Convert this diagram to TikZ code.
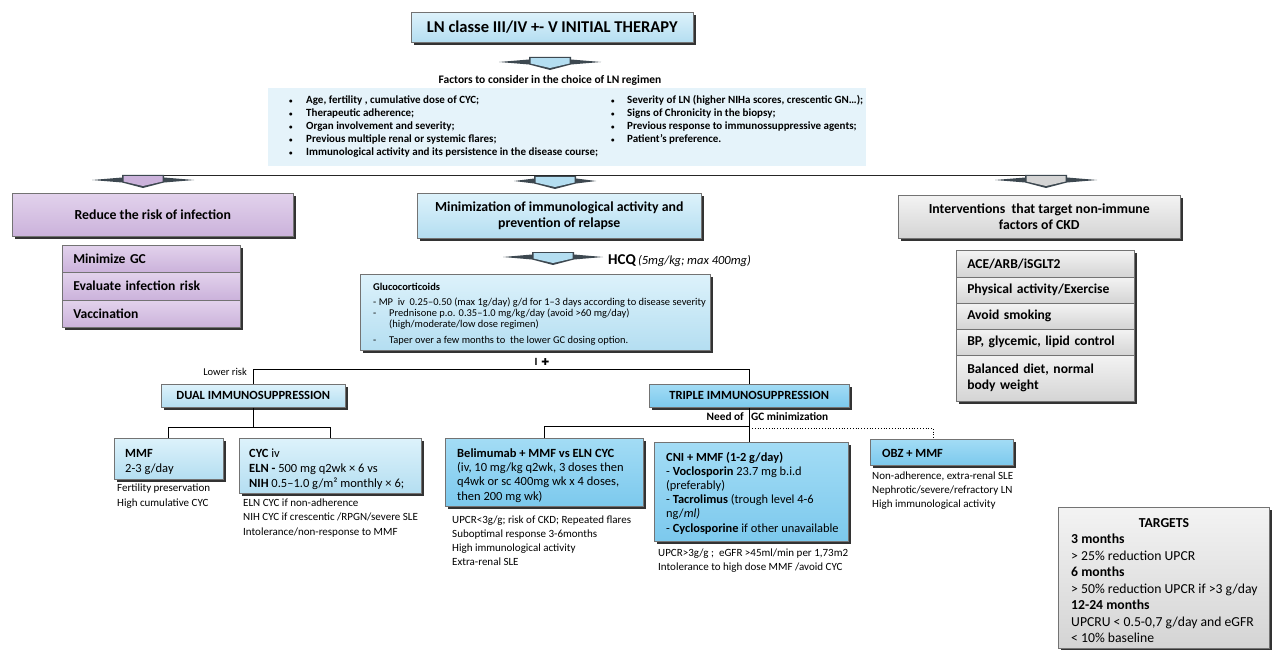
\documentclass[tikz,border=0pt]{standalone}
\usepackage{fontspec}
\setmainfont{Carlito}
\newfontfamily\dejavu{DejaVu Sans}
\usetikzlibrary{shadows,calc}

\definecolor{lbluetop}{HTML}{DDF2FB}
\definecolor{lbluebot}{HTML}{B4DEF1}
\definecolor{sbluetop}{HTML}{A3DCF5}
\definecolor{sbluebot}{HTML}{7CC9ED}
\definecolor{factbg}{HTML}{E5F3FA}
\definecolor{lilactop}{HTML}{E2D2EC}
\definecolor{lilacbot}{HTML}{CBB2DB}
\definecolor{gtop}{HTML}{F3F3F3}
\definecolor{gbot}{HTML}{D4D4D4}
\definecolor{arrowdark}{HTML}{3D4850}

\newcommand\flatarrow[4]{%
 \fill[arrowdark] (#1-#3,#2+5) -- (#1-21,#2+2.5) -- (#1-21,#2) -- (#1+21,#2) -- (#1+21,#2+2.5) -- (#1+#3,#2+5) -- (#1+21,#2+7.5) -- (#1,#2+13) -- (#1-21,#2+7.5) -- cycle;
 \fill[#4] (#1-19.5,#2+1.2) -- (#1+19.5,#2+1.2) -- (#1+19.5,#2+6.5) -- (#1,#2+11) -- (#1-19.5,#2+6.5) -- cycle;
}
\newcommand\txtlines[1]{\begin{tabular}[t]{@{}l@{}}#1\end{tabular}}
\newcommand\smallbul{\raisebox{0.6pt}{\fontsize{7}{7}\selectfont •}}

\tikzset{
 box/.style={draw=black!55, line width=0.5pt, general shadow={fill=black!80, shadow xshift=2.5pt, shadow yshift=-2.5pt}, inner sep=0pt, anchor=north west},
 bluebox/.style={box, top color=lbluetop, bottom color=lbluebot},
 sbluebox/.style={box, top color=sbluetop, bottom color=sbluebot},
 lilacbox/.style={box, top color=lilactop, bottom color=lilacbot},
 graybox/.style={box, top color=gtop, bottom color=gbot},
 itembox/.style={text width=156pt, inner xsep=11pt, align=left, font=\bfseries\fontsize{13.6}{16}\selectfont},
 boxtext/.style={anchor=base west, inner sep=0pt, font=\fontsize{12.5}{15.2}\selectfont},
 note/.style={anchor=base west, inner sep=0pt, font=\fontsize{11}{14}\selectfont},
 link/.style={draw=black, line width=0.8pt},
}

\begin{document}
\begin{tikzpicture}[x=1pt,y=-1pt]
\useasboundingbox (0,0) rectangle (1272,650);
\fill[white] (0,0) rectangle (1272,650);

% title
\node[bluebox, minimum width=282pt, minimum height=30pt, font=\bfseries\fontsize{16.5}{18}\selectfont] (title) at (411,12) {LN classe III/IV +- V INITIAL THERAPY};
\flatarrow{550}{57}{51}{lbluebot}
\node[inner sep=0pt, font=\bfseries\fontsize{11.5}{13}\selectfont] (factorshead) at (550,80) {Factors to consider in the choice of LN regimen};

% factors
\node[fill=factbg, anchor=north west, minimum width=598pt, minimum height=78pt, inner sep=0pt] (factors) at (268,88) {};
\node[anchor=base west, inner sep=0pt, font=\bfseries\fontsize{11}{13}\selectfont] (factorsL) at (289,104) {\begin{tabular}[t]{@{}p{17pt}@{}l@{}}
\smallbul&Age, fertility , cumulative dose of CYC;\\
\smallbul&Therapeutic adherence;\\
\smallbul&Organ involvement and severity;\\
\smallbul&Previous multiple renal or systemic flares;\\
\smallbul&Immunological activity and its persistence in the disease course;
\end{tabular}};
\node[anchor=base west, inner sep=0pt, font=\bfseries\fontsize{11}{13}\selectfont] (factorsR) at (611,104) {\begin{tabular}[t]{@{}p{16pt}@{}l@{}}
\smallbul&Severity of LN (higher NIHa scores, crescentic GN…);\\
\smallbul&Signs of Chronicity in the biopsy;\\
\smallbul&Previous response to immunossuppressive agents;\\
\smallbul&Patient’s preference.
\end{tabular}};

% distribution line and arrows
\coordinate (hl) at (143,175);
\coordinate (hr) at (1046,175);
\draw[line width=0.9pt, black!85] (hl) -- (hr);
\flatarrow{143}{175}{51}{lilacbot}
\flatarrow{555}{176}{41}{lbluebot}
\flatarrow{1046}{175}{51}{gbot}

% left branch
\node[lilacbox, minimum width=281pt, minimum height=43pt, font=\bfseries\fontsize{13.8}{16}\selectfont] (reduce) at (12,193) {Reduce the risk of infection};
\node[lilacbox, itembox, minimum height=27pt] (mingc) at (62,245) {\mbox{Minimize GC}};
\node[lilacbox, itembox, minimum height=28pt] (evalinf) at (62,272) {\mbox{Evaluate infection risk}};
\node[lilacbox, itembox, minimum height=27pt] (vacc) at (62,300) {\mbox{Vaccination}};

% middle branch
\node[bluebox, minimum width=284pt, minimum height=45pt, align=center, font=\bfseries\fontsize{13.8}{16.5}\selectfont] (minim) at (417,193) {Minimization of immunological activity and\\prevention of relapse};
\flatarrow{553}{252}{50}{lbluebot}
\node[anchor=base west, inner sep=0pt] (hcq) at (608,264) {{\bfseries\fontsize{15}{17}\selectfont HCQ} {\itshape\fontsize{12.5}{14}\selectfont (5mg/kg; max 400mg)}};

\node[bluebox, minimum width=350pt, minimum height=76pt] (gc) at (360,274) {};
\node[anchor=base west, inner sep=0pt, font=\fontsize{10.45}{11}\selectfont] (gctext) at (373,290) {\txtlines{\textbf{Glucocorticoids}\\[4pt]- MP\ \ iv\ \ 0.25–0.50 (max 1g/day) g/d for 1–3 days according to disease severity\\\makebox[16pt][l]{-}Prednisone p.o. 0.35–1.0 mg/kg/day (avoid >60 mg/day)\\\hspace*{16pt}(high/moderate/low dose regimen)\\[5pt]\makebox[16pt][l]{-}Taper over a few months to\ \ the lower GC dosing option.}};
\node[inner sep=0pt, font=\bfseries\fontsize{11}{12}\selectfont] (iplus) at (542,362) {I\hspace{4pt}{\dejavu\fontsize{9.5}{10}\selectfont ✚}};

% dual / triple
\node[bluebox, minimum width=184pt, minimum height=23pt, font=\bfseries\fontsize{12.5}{14}\selectfont] (dual) at (161,384) {DUAL IMMUNOSUPPRESSION};
\node[sbluebox, minimum width=200pt, minimum height=23pt, font=\bfseries\fontsize{12.5}{14}\selectfont] (triple) at (649,384) {TRIPLE IMMUNOSUPPRESSION};
\node[anchor=base east, inner sep=0pt, font=\fontsize{10.5}{12}\selectfont] (lowrisk) at (247,375.5) {Lower risk};
\draw[link] (dual.north) -- ++(0,-15) -| (triple.north);

% dual subtree
\node[bluebox, minimum width=109pt, minimum height=41pt] (mmf) at (114,438) {};
\node[boxtext, font=\fontsize{12.5}{15.3}\selectfont] (mmftext) at (125,457) {\txtlines{\textbf{MMF}\\2-3 g/day}};
\node[bluebox, minimum width=182pt, minimum height=55pt] (cyc) at (239,438) {};
\node[boxtext, font=\fontsize{12.5}{15.1}\selectfont] (cyctext) at (249,457) {\txtlines{\textbf{CYC} iv\\\textbf{ELN -} 500 mg q2wk × 6 vs\\\textbf{NIH} 0.5–1.0 g/m² monthly × 6;}};
\coordinate (dj) at ($(dual.south)+(0,20)$);
\draw[link] (dual.south) -- (dj);
\draw[link] (mmf.north) |- (dj) -| (cyc.north);
\node[note, font=\fontsize{11}{15}\selectfont] (mmfnote) at (117,491) {\txtlines{Fertility preservation\\High cumulative CYC}};
\node[note, font=\fontsize{11}{14.5}\selectfont] (cycnote) at (243,506.3) {\txtlines{ELN CYC if non-adherence\\NIH CYC if crescentic /RPGN/severe SLE\\Intolerance/non-response to MMF}};

% triple subtree
\node[sbluebox, minimum width=198pt, minimum height=68pt] (bel) at (445,438) {};
\node[boxtext, font=\fontsize{12.5}{14.4}\selectfont] (beltext) at (457,457) {\txtlines{\textbf{Belimumab + MMF vs ELN CYC}\\(iv, 10 mg/kg q2wk, 3 doses then\\q4wk or sc 400mg wk x 4 doses,\\then 200 mg wk)}};
\node[sbluebox, minimum width=194pt, minimum height=99pt] (cni) at (654,442) {};
\node[boxtext, font=\fontsize{12.4}{14.2}\selectfont] (cnitext) at (666,461) {\txtlines{\textbf{CNI + MMF (1-2 g/day)}\\- \textbf{Voclosporin} 23.7 mg b.i.d\\(preferably)\\- \textbf{Tacrolimus} (trough level 4-6\\ng/\textit{ml)}\\- \textbf{Cyclosporine} if other\ unavailable}};
\node[sbluebox, minimum width=143pt, minimum height=26pt] (obz) at (870,439) {};
\node[anchor=base west, inner sep=0pt, font=\bfseries\fontsize{12.5}{14}\selectfont] (obztext) at (882,457) {OBZ + MMF};

\node[anchor=base east, inner sep=0pt, font=\bfseries\fontsize{11.3}{13}\selectfont] (needof) at (744,420) {Need of};
\node[anchor=base west, inner sep=0pt, font=\bfseries\fontsize{11.3}{13}\selectfont] (gcmin) at (751,420) {GC minimization};
\coordinate (tj) at ($(triple.south)+(0,19)$);
\draw[link] (triple.south) -- (triple.south |- cni.north);
\draw[link] (bel.north) |- (tj);
\draw[dotted, line width=0.8pt] ($(tj)+(0,2)$) -| ($(obz.north)+(-8,0)$);

\node[note] (belnote) at (452,523.3) {\txtlines{UPCR<3g/g; risk of CKD; Repeated flares\\Suboptimal response 3-6months\\High immunological activity\\Extra-renal SLE}};
\node[note] (cninote) at (658,556.3) {\txtlines{UPCR>3g/g ;\ \ eGFR >45ml/min per 1,73m2\\Intolerance to high dose MMF /avoid CYC}};
\node[note] (obznote) at (872,479.3) {\txtlines{Non-adherence, extra-renal SLE\\Nephrotic/severe/refractory LN\\High immunological activity}};

% right branch
\node[graybox, minimum width=282pt, minimum height=43pt, align=center, font=\bfseries\fontsize{13.8}{16.5}\selectfont] (ckd) at (898,195) {Interventions\ \ that target non-immune\\factors of CKD};
\node[graybox, itembox, minimum height=27pt] (ace) at (956,250) {\mbox{ACE/ARB/iSGLT2}};
\node[graybox, itembox, minimum height=26pt] (phys) at (956,277) {\mbox{Physical activity/Exercise}};
\node[graybox, itembox, minimum height=26pt] (smok) at (956,303) {\mbox{Avoid smoking}};
\node[graybox, itembox, minimum height=26pt] (bp) at (956,329) {\mbox{BP, glycemic, lipid control}};
\node[graybox, itembox, minimum height=46pt] (diet) at (956,355) {\mbox{Balanced diet, normal}\\\mbox{body weight}};

% targets
\node[graybox, minimum width=211pt, minimum height=141pt] (targets) at (1058,507) {};
\node[anchor=base, inner sep=0pt, font=\bfseries\fontsize{13.7}{15}\selectfont] (ttitle) at (1164,527.5) {TARGETS};
\node[anchor=base west, inner sep=0pt, font=\fontsize{13.7}{16.5}\selectfont] (ttext) at (1071,543.5) {\txtlines{\textbf{3 months}\\> 25\% reduction UPCR\\\textbf{6 months}\\> 50\% reduction UPCR if >3 g/day\\\textbf{12-24 months}\\UPCRU < 0.5-0,7 g/day and eGFR\\< 10\% baseline}};
\end{tikzpicture}
\end{document}
